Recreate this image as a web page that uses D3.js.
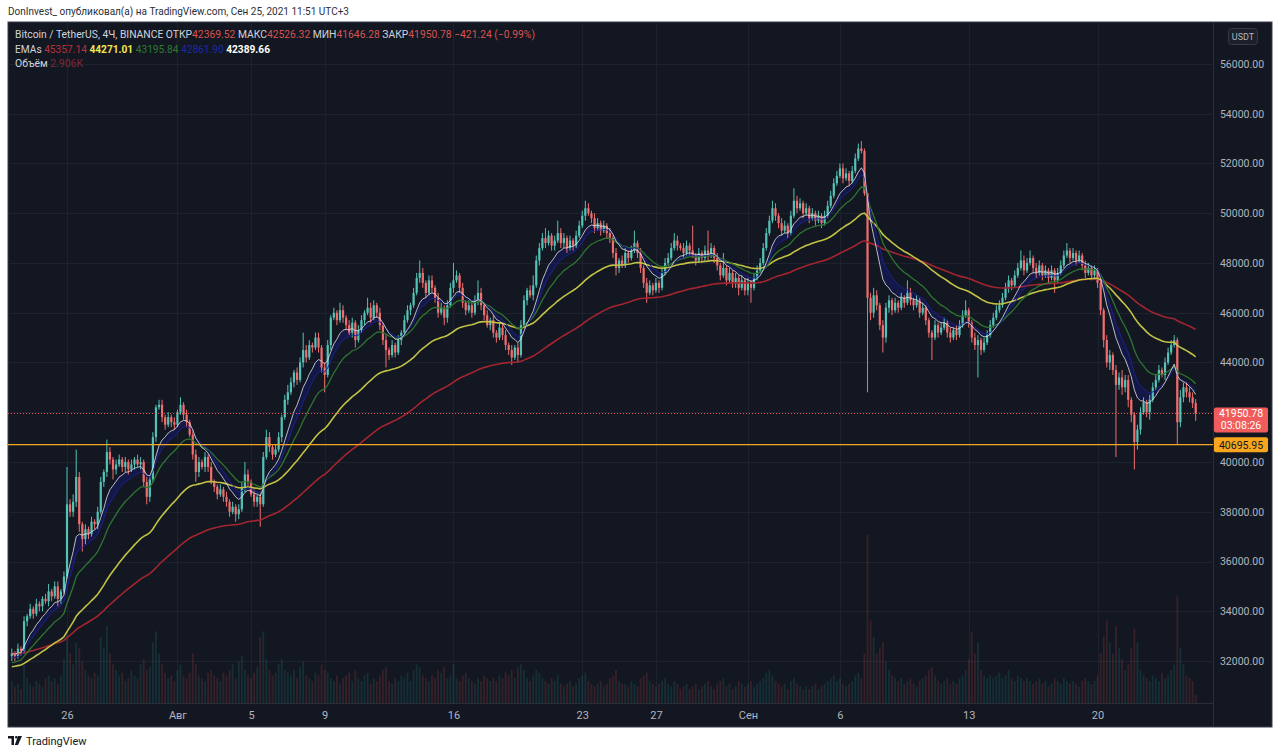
<!DOCTYPE html>
<html><head><meta charset="utf-8">
<script src="https://cdn.jsdelivr.net/npm/d3@7"></script>
<style>html,body{margin:0;padding:0;background:#fff;overflow:hidden}svg{display:block;font-family:Roboto,"Noto Sans",sans-serif}</style>
</head><body><svg id="c" width="1280" height="756"></svg>
<script>
// ---------- DATA (BTC/USDT 4h, Binance) ----------
const startDate = "2021-07-23T00:00:00Z";   // first 4h bar
const open0 = 322;                            // open of first bar (hundreds USDT)
// close prices, hundreds of USDT
const closeH = [
323,322,325,324,336,338,341,339,343,342,
345,344,348,346,350,345,348,354,383,380,
384,394,375,369,373,371,376,375,380,392,
396,404,401,397,399,401,398,400,397,399,
401,399,400,392,386,393,410,422,423,418,
415,418,416,415,420,423,419,416,411,403,
396,400,398,402,398,392,390,387,389,386,
384,380,382,379,381,390,395,392,387,384,
386,383,402,410,406,403,405,410,418,425,
428,432,436,433,440,445,442,447,446,450,
446,438,435,447,458,460,457,461,458,455,
452,456,449,453,457,460,462,458,463,460,
455,449,445,443,447,444,449,452,457,461,
463,468,474,476,472,468,473,470,466,460,
462,458,463,470,473,475,470,464,461,463,
460,465,468,463,459,455,457,452,450,454,
451,447,445,442,446,443,455,465,469,467,
471,481,486,490,488,491,487,489,492,488,
490,486,489,487,491,495,499,502,500,498,
494,496,493,495,492,490,484,478,481,479,
484,482,485,488,484,478,472,468,471,469,
472,470,476,480,482,486,489,487,486,484,
487,485,483,481,484,482,485,483,486,482,
479,475,478,473,476,472,474,470,473,469,
472,470,474,477,480,486,492,497,502,499,
496,493,495,492,499,505,502,504,500,502,
498,500,497,499,496,499,503,507,512,515,
518,514,516,513,517,522,526,525,508,466,
460,467,463,455,450,462,465,461,464,462,
466,464,468,465,463,465,460,462,457,452,
450,455,452,454,456,452,450,453,451,455,
459,461,456,450,447,449,445,448,451,455,
458,461,463,466,470,473,471,475,478,481,
477,480,482,478,476,479,475,477,474,477,
473,476,479,483,485,482,484,481,483,479,
476,478,475,477,472,461,449,440,443,437,
431,434,430,433,425,419,408,413,420,424,
420,425,430,433,437,435,440,444,447,449,
416,426,430,428,426,423.7,419.5078
];
// upper wick above max(open,close), hundreds of USDT
const wickUp = [
2,1,2,1,2,1,2,1,2,1,1,2,3,1,2,2,1,2,15,2,
3,11,2,1,2,1,2,1,2,2,1,5,2,1,2,2,1,2,1,2,
1,2,2,1,2,1,2,1,2,2,1,2,1,2,1,3,1,2,1,2,
2,2,1,2,1,2,1,1,2,1,2,1,2,1,2,2,5,2,1,2,
1,2,2,3,2,1,2,2,1,2,3,2,1,2,2,7,2,2,1,2,
2,1,2,2,1,2,1,3,2,1,2,2,1,2,2,1,4,2,2,1,
2,1,2,1,2,1,2,1,2,2,1,2,2,5,2,1,2,2,1,2,
2,1,2,2,7,2,1,2,1,2,1,2,5,2,1,2,1,2,1,2,
1,2,1,2,1,2,2,2,1,2,4,2,2,2,4,2,1,2,5,2,
2,1,2,1,2,2,2,3,2,1,2,2,1,2,1,2,1,2,1,2,
2,1,2,5,1,2,1,2,2,1,2,1,2,2,2,2,3,2,1,2,
2,1,10,1,2,1,2,8,2,1,2,1,6,1,2,1,2,1,2,1,
2,1,2,2,2,2,2,2,3,2,1,2,2,1,2,5,2,2,1,2,
1,2,1,2,1,2,2,2,2,2,2,2,2,1,2,2,2,3,1,0,
2,3,2,1,2,2,2,1,2,1,2,1,5,2,1,2,1,2,1,1,
1,2,1,2,2,1,2,1,2,2,2,4,1,1,2,2,1,2,2,2,
2,2,2,2,2,2,1,2,2,4,2,2,3,1,2,2,1,2,1,2,
1,2,2,2,3,1,2,1,2,1,2,2,1,2,1,1,1,2,2,1,
2,2,3,2,2,1,1,2,2,2,1,2,2,2,2,1,2,2,2,2,
1,3,2,2,2,2,1.58
];
// lower wick below min(open,close), hundreds of USDT
const wickDn = [
2,2,1,2,1,2,1,2,1,2,2,1,2,2,1,3,2,1,1,2,
2,2,3,5,2,2,1,2,2,1,2,2,2,4,2,1,2,2,2,1,
2,1,2,2,3,2,1,2,1,2,2,1,2,2,1,1,2,2,1,2,
4,2,1,2,2,1,2,2,1,2,2,2,1,3,2,1,2,2,1,2,
2,9,1,1,2,2,1,1,2,1,2,1,2,2,1,2,2,1,2,1,
2,2,7,1,2,1,2,1,2,2,1,2,3,1,1,2,1,2,1,2,
2,2,7,2,1,2,1,2,1,1,2,1,1,2,2,2,1,2,2,2,
1,3,2,1,2,1,2,2,2,1,2,1,2,2,2,1,2,2,2,1,
2,2,2,3,1,3,1,1,2,1,2,1,2,1,2,1,2,2,1,2,
2,2,1,2,1,1,1,2,1,2,2,1,2,1,2,2,2,3,2,1,
1,2,1,1,2,2,2,4,1,2,1,2,1,1,1,1,1,2,1,2,
1,2,1,2,1,2,1,2,1,2,2,2,1,2,1,2,2,3,1,2,
2,6,1,1,1,1,1,1,1,2,2,2,1,2,1,1,2,1,2,1,
2,1,2,1,2,1,1,1,1,1,1,2,1,2,1,1,1,1,1,38,
3,2,2,2,6,2,2,2,1,2,1,2,1,2,2,1,2,1,2,2,
9,1,2,1,1,2,2,1,2,1,1,1,2,2,2,13,2,1,1,1,
1,1,1,1,1,2,2,1,1,1,2,1,1,2,2,1,2,1,2,1,
5,1,1,1,1,2,1,2,1,2,2,1,2,1,2,2,3,2,3,2,
29,2,3,2,3,3,11,3,2,1,2,3,1,1,1,1,2,1,1,1,
9,2,2,2,2,2,3.0
];
// volume per bar, thousands of BTC
const volumeK = [
8,6,7,5,14,9,7,6,8,7,6,9,10,8,9,7,10,16,26,18,
14,22,20,15,12,10,9,11,10,24,20,28,18,14,12,10,11,8,9,12,
10,9,14,16,12,13,22,26,18,14,11,9,10,8,12,14,10,9,11,18,
14,10,9,8,11,12,10,9,8,11,10,12,14,9,15,17,12,10,9,11,
13,24,26,16,12,10,11,14,16,12,11,10,12,9,13,15,10,9,8,11,
10,14,12,11,9,8,10,7,9,10,11,8,12,9,8,10,11,7,9,8,
10,12,13,8,7,9,8,10,9,11,8,12,14,13,10,9,8,10,9,12,
11,13,9,10,14,9,8,10,11,9,8,7,9,8,10,9,8,9,8,10,
9,11,10,12,9,13,14,12,9,8,10,12,11,9,8,7,9,8,10,7,
6,7,8,6,7,9,10,11,8,7,6,7,8,6,7,9,10,12,8,7,
7,6,8,7,6,9,10,11,8,7,6,7,8,9,7,6,8,7,5,6,
7,5,6,7,5,6,7,8,6,5,7,8,9,6,7,5,6,8,7,6,
7,8,6,7,8,9,11,12,10,8,7,6,7,5,8,9,7,6,5,6,
5,6,7,5,6,7,8,9,10,8,9,7,6,7,8,10,11,9,18,61,
30,24,18,20,22,15,12,10,9,8,9,7,8,9,7,6,8,9,10,12,
13,10,8,7,8,9,7,8,7,9,10,12,16,26,18,22,12,10,9,10,
9,10,11,9,10,12,9,8,10,9,8,9,8,7,8,9,7,8,6,7,
9,8,7,9,8,7,8,7,6,8,9,8,7,8,10,18,24,30,22,18,
28,20,16,12,14,20,27,22,12,10,9,8,10,9,8,11,9,10,12,14,
39,20,14,10,9,8,3
];
// EMA settings: periods and starting values (read at the first bar)
const emaNames   = ["red","yellow","green","blue","white"];
const emaPeriods = [100, 50, 21, 13, 9];
const emaSeeds   = [32300, 31750, 31900, 32100, 32300];
// price axis ticks
const priceTicks = [32000,34000,36000,38000,40000,42000,44000,46000,48000,50000,52000,54000,56000];
// time axis ticks
const timeTickDates  = ["2021-07-26","2021-08-01","2021-08-05","2021-08-09","2021-08-16","2021-08-23","2021-08-27","2021-09-01","2021-09-06","2021-09-13","2021-09-20"];
const timeTickLabels = ["26","Авг","5","9","16","23","27","Сен","6","13","20"];
const levelPrice = 40695.95;
const lastClose = 41950.78;
const countdown = "03:08:26";
const legendOHLC = {o:"42369.52", h:"42526.32", l:"41646.28", c:"41950.78", chg:"−421.24 (−0.99%)"};
const legendEMA = ["45357.14","44271.01","43195.84","42861.90","42389.66"];
const legendVol = "2.906K";

// ---------- BUILD ----------
const svg = d3.select("#c");
const P = {x0:8, x1:1272, y0:22, y1:727};      // chart panel
const A = {x0:8, x1:1213, y0:22, y1:703};      // plot area
const BG = "#131722";
const N = closeH.length;
const t0 = new Date(startDate).getTime();
const bars = closeH.map((v,i)=>{
  const o = (i===0? open0 : closeH[i-1])*100, c = v*100;
  return {i, t:new Date(t0 + i*4*3600e3), o, c,
          h: Math.max(o,c) + wickUp[i]*100, l: Math.min(o,c) - wickDn[i]*100, v: volumeK[i]};
});
const emas = emaPeriods.map((p,k)=>{
  const a = 2/(p+1); let e = emaSeeds[k];
  return bars.map((b)=>{ e = a*b.c+(1-a)*e; return e; });
});

const x = d3.scaleUtc().domain([bars[0].t, bars[N-1].t]).range([11.8, 1195.7]);
const y = d3.scaleLinear().domain([30314, 57685]).range([A.y1, A.y0]);
const yv = d3.scaleLinear().domain([0, 61]).range([A.y1, 535]);

// panel
svg.append("rect").attr("x",P.x0).attr("y",P.y0).attr("width",P.x1-P.x0).attr("height",P.y1-P.y0)
  .attr("fill",BG).attr("stroke","#3b3f4b").attr("stroke-width",1);

svg.append("defs").append("clipPath").attr("id","pc").append("rect")
  .attr("x",A.x0).attr("y",A.y0).attr("width",A.x1-A.x0).attr("height",A.y1-A.y0);
const g = svg.append("g").attr("clip-path","url(#pc)");

// grid
g.append("g").selectAll("line").data(priceTicks).join("line")
  .attr("x1",A.x0).attr("x2",A.x1).attr("y1",d=>Math.round(y(d))+0.5).attr("y2",d=>Math.round(y(d))+0.5)
  .attr("stroke","#1e2230").attr("stroke-width",1);
const tickT = timeTickDates.map(d=>new Date(d+"T00:00:00Z"));
g.append("g").selectAll("line").data(tickT).join("line")
  .attr("x1",d=>Math.round(x(d))+0.5).attr("x2",d=>Math.round(x(d))+0.5).attr("y1",A.y0).attr("y2",A.y1)
  .attr("stroke","#1e2230").attr("stroke-width",1);

// volume
g.append("g").selectAll("rect").data(bars).join("rect")
  .attr("x",d=>x(d.t)-0.9).attr("width",1.8)
  .attr("y",d=>yv(d.v)).attr("height",d=>A.y1-yv(d.v))
  .attr("fill",d=>d.c>=d.o? "rgba(38,166,154,0.17)":"rgba(239,83,80,0.17)");

// blue band between fast EMAs
const area = d3.area().x((d,i)=>x(bars[i].t)).y0((d,i)=>y(emas[4][i])).y1((d,i)=>y(emas[3][i]));
g.append("path").datum(bars).attr("d",area).attr("fill","#151a66").attr("opacity",0.55);

// candles
const UP="#55c2b6", DN="#f06e6e";
const cg = g.append("g");
cg.selectAll("line").data(bars).join("line")
  .attr("x1",d=>x(d.t)).attr("x2",d=>x(d.t)).attr("y1",d=>y(d.h)).attr("y2",d=>y(d.l))
  .attr("stroke",d=>d.c>=d.o?UP:DN).attr("stroke-width",1);
cg.selectAll("rect").data(bars).join("rect")
  .attr("x",d=>x(d.t)-1.1).attr("width",2.2)
  .attr("y",d=>y(Math.max(d.o,d.c))).attr("height",d=>Math.max(1,Math.abs(y(d.o)-y(d.c))))
  .attr("fill",d=>d.c>=d.o?UP:DN);

// EMA lines
const emaColors = ["#a3252f","#c2c244","#2d7531","#1b2290","#e4e4e4"];
const emaWidths = [1.6,1.6,1.3,1,1];
[0,1,2,3,4].forEach(k=>{
  const line = d3.line().x((d,i)=>x(bars[i].t)).y((d)=>y(d));
  g.append("path").datum(emas[k]).attr("d",line).attr("fill","none")
    .attr("stroke",emaColors[k]).attr("stroke-width",emaWidths[k]).attr("opacity",k===4?0.8:1);
});

// level lines
g.append("line").attr("x1",A.x0).attr("x2",A.x1).attr("y1",y(levelPrice)).attr("y2",y(levelPrice))
  .attr("stroke","#f5a623").attr("stroke-width",1.2);
g.append("line").attr("x1",A.x0).attr("x2",A.x1).attr("y1",Math.round(y(lastClose))+0.5).attr("y2",Math.round(y(lastClose))+0.5)
  .attr("stroke","#ef5350").attr("stroke-width",1).attr("stroke-dasharray","1,2");

// axes separators
svg.append("line").attr("x1",A.x1+0.5).attr("x2",A.x1+0.5).attr("y1",P.y0).attr("y2",P.y1).attr("stroke","#2a2e39");
svg.append("line").attr("x1",P.x0).attr("x2",A.x1).attr("y1",A.y1+0.5).attr("y2",A.y1+0.5).attr("stroke","#2a2e39");

// price axis
const yAxis = d3.axisRight(y).tickValues(priceTicks).tickFormat(d3.format(".2f")).tickSize(0).tickPadding(0);
const ya = svg.append("g").attr("transform",`translate(1242,0)`).call(yAxis);
ya.select(".domain").remove();
ya.selectAll("text").attr("fill","#b2b5be").attr("font-size","10.5px").attr("text-anchor","middle").attr("font-family","Roboto");

// time axis
const xAxis = d3.axisBottom(x).tickValues(tickT).tickFormat((d,i)=>timeTickLabels[i]).tickSize(0).tickPadding(0);
const xa = svg.append("g").attr("transform",`translate(0,711)`).call(xAxis);
xa.select(".domain").remove();
xa.selectAll("text").attr("fill","#b2b5be").attr("font-size","11px").attr("font-family","Roboto");

// price labels
const yc = y(lastClose);
svg.append("rect").attr("x",A.x1+1).attr("y",yc-6).attr("width",54).attr("height",25).attr("rx",2).attr("fill","#f05b5b");
svg.append("text").attr("x",1241).attr("y",yc+4).attr("text-anchor","middle").attr("fill","#fff").attr("font-size","10.5px").text(d3.format(".2f")(lastClose));
svg.append("text").attr("x",1241).attr("y",yc+16).attr("text-anchor","middle").attr("fill","#fff").attr("font-size","10.5px").text(countdown);
const yl = y(levelPrice);
svg.append("rect").attr("x",A.x1+1).attr("y",yl-7.5).attr("width",54).attr("height",15).attr("rx",2).attr("fill","#f7a61e");
svg.append("text").attr("x",1241).attr("y",yl+4).attr("text-anchor","middle").attr("fill","#131722").attr("font-size","10.5px").text(d3.format(".2f")(levelPrice));

// USDT badge
svg.append("rect").attr("x",1228.5).attr("y",28.5).attr("width",29).attr("height",16).attr("rx",3).attr("fill","#1c202b").attr("stroke","#363a45");
svg.append("text").attr("x",1243).attr("y",40).attr("text-anchor","middle").attr("fill","#b2b5be").attr("font-size","9px").text("USDT");

// legend
const LG="#d1d4dc", RV="#d9534f";
function legendLine(yb, len, parts){
  const t = svg.append("text").attr("x",15).attr("y",yb).attr("font-size","10px")
    .attr("textLength",len).attr("lengthAdjust","spacingAndGlyphs");
  parts.forEach(p=>t.append("tspan").attr("fill",p[1]).attr("font-weight",p[2]||"normal").text(p[0]));
}
legendLine(38, 520, [["Bitcoin / TetherUS, 4Ч, BINANCE  ",LG],["ОТКР",LG],[legendOHLC.o,RV],["  МАКС",LG],[legendOHLC.h,RV],
  ["  МИН",LG],[legendOHLC.l,RV],["  ЗАКР",LG],[legendOHLC.c,RV],["  "+legendOHLC.chg,RV]]);
legendLine(53, 255, [["EMAs  ",LG],[legendEMA[0],"#b8323a"],["  ",LG],[legendEMA[1],"#f2e64a","bold"],["  ",LG],
  [legendEMA[2],"#2f7a33"],["  ",LG],[legendEMA[3],"#1f2aa0"],["  ",LG],[legendEMA[4],"#ffffff","bold"]]);
legendLine(67, 68, [["Объём  ",LG],[legendVol,"#7d2a31"]]);

// header & footer
svg.append("text").attr("x",8).attr("y",15).attr("font-size","10.5px").attr("fill","#2a2e39")
  .attr("textLength",341).attr("lengthAdjust","spacingAndGlyphs")
  .text("DonInvest_ опубликовал(а) на TradingView.com, Сен 25, 2021 11:51 UTC+3");
const logo = svg.append("g").attr("transform","translate(8,736)");
logo.append("path").attr("d","M0 0H6V9H3.5V2.5H0Z").attr("fill","#131722");
logo.append("circle").attr("cx",8.3).attr("cy",1.3).attr("r",1.3).attr("fill","#131722");
logo.append("path").attr("d","M10 0H14L10 9H6.8Z").attr("fill","#131722");
svg.append("text").attr("x",26).attr("y",745).attr("font-size","11px").attr("fill","#131722").text("TradingView");
</script></body></html>
